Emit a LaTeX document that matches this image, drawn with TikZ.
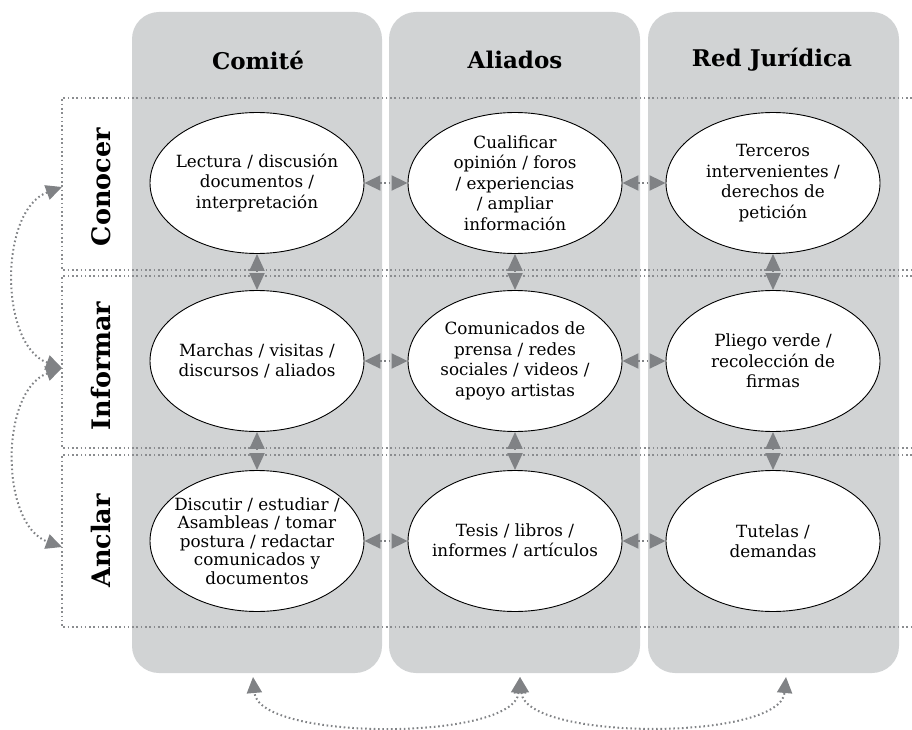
\documentclass[tikz,border=0pt]{standalone}
\usepackage{fontspec}
\usetikzlibrary{shapes.geometric, arrows.meta}
\newfontfamily\bodyfont{DejaVu Serif}
\definecolor{colgray}{HTML}{D1D3D4}
\definecolor{tipgray}{HTML}{808285}
\definecolor{dotgray}{HTML}{8A8C8F}

\begin{document}
\begin{tikzpicture}[x=1pt, y=-1pt, col/.style={fill=colgray, rounded corners=27pt}, head/.style={font={\bodyfont\bfseries\fontsize{23}{26}\selectfont}}, row/.style={rotate=90, font={\bodyfont\bfseries\fontsize{25.5}{28}\selectfont}}, act/.style={draw, ellipse, fill=white, line width=0.9pt, minimum width=214pt, minimum height=141pt, inner xsep=-14pt, inner ysep=-6pt, align=center, font={\bodyfont\fontsize{16.8}{20.5}\selectfont}}, frame/.style={dotgray, line width=2pt, dash pattern=on 1.6pt off 2.7pt}, n/.style={{Triangle[length=16pt,width=15pt]}-{Triangle[length=16pt,width=15pt]}, tipgray, line width=2pt, dash pattern=on 1.6pt off 2.7pt}, v/.style={{Triangle[length=17pt,width=15pt]}-{Triangle[length=17pt,width=15pt]}, tipgray, line width=2pt, dash pattern=on 1.6pt off 2.7pt}]
                \useasboundingbox (0,0) rectangle (912,730);
                % columns
                \fill[col] (132,12) rectangle (382,673);
                \fill[col] (389,12) rectangle (640,673);
                \fill[col] (648,12) rectangle (899,673);
                % row frames
                \draw[frame] (912,98) -| (62,270) -- (912,270);
                \draw[frame] (912,276) -| (62,448) -- (912,448);
                \draw[frame] (912,455) -| (62,627) -- (912,627);
                % headers
                \node[head] (comite) at (258,60) {Comité};
                \node[head] (aliados) at (515,60) {Aliados};
                \node[head] (red) at (772,60) {Red Jurídica};
                \node[row] (conocer) at (101,187) {Conocer};
                \node[row] (informar) at (101,366) {Informar};
                \node[row] (anclar) at (101,541) {Anclar};
                % nodes
                \node[act] (lectura) at (257,183) {Lectura / discusión\\documentos /\\interpretación};
                \node[act] (cualificar) at (515,183) {Cualificar\\opinión / foros\\/ experiencias\\/ ampliar\\información};
                \node[act] (terceros) at (773,183) {Terceros\\intervenientes /\\derechos de\\petición};
                \node[act] (marchas) at (257,361) {Marchas / visitas /\\discursos / aliados};
                \node[act] (comunicados) at (515,361) {Comunicados de\\prensa / redes\\sociales / videos /\\apoyo artistas};
                \node[act] (pliego) at (773,361) {Pliego verde /\\recolección de\\firmas};
                \node[act, font={\bodyfont\fontsize{16.8}{18.5}\selectfont}] (discutir) at (257,541) {Discutir / estudiar /\\Asambleas / tomar\\postura / redactar\\comunicados y\\documentos};
                \node[act] (tesis) at (515,541) {Tesis / libros /\\informes / artículos};
                \node[act] (tutelas) at (773,541) {Tutelas /\\demandas};
                \coordinate (lc) at (62,187);
                \coordinate (li) at (62,368);
                \coordinate (la) at (62,547);
                \coordinate (bc) at (253,677);
                \coordinate (ba) at (520,677);
                \coordinate (br) at (786,677);
                % edges
                \draw[n] (lectura) -- (cualificar);
                \draw[n] (cualificar) -- (terceros);
                \draw[n] (marchas) -- (comunicados);
                \draw[n] (comunicados) -- (pliego);
                \draw[n] (discutir) -- (tesis);
                \draw[n] (tesis) -- (tutelas);
                \draw[v] (lectura) -- (marchas);
                \draw[v] (marchas) -- (discutir);
                \draw[v] (cualificar) -- (comunicados);
                \draw[v] (comunicados) -- (tesis);
                \draw[v] (terceros) -- (pliego);
                \draw[v] (pliego) -- (tutelas);
                \draw[n] (li) to[out=160, in=200, looseness=0.95] (lc);
                \draw[n] (li) to[out=200, in=160, looseness=0.95] (la);
                \draw[n] (ba) to[out=-95, in=-85, looseness=0.62] (bc);
                \draw[n] (ba) to[out=-85, in=-95, looseness=0.62] (br);
\end{tikzpicture}
\end{document}
